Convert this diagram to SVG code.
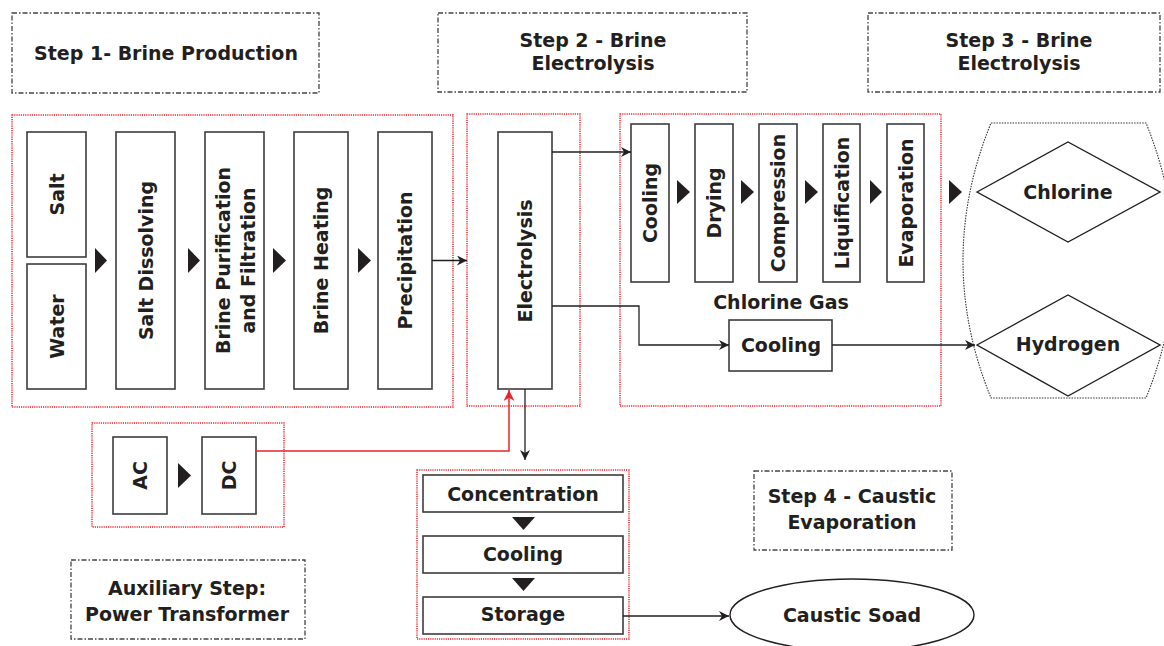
<svg xmlns="http://www.w3.org/2000/svg" width="1164" height="646" viewBox="0 0 1164 646">
<defs>
<style>
.t{font-family:"DejaVu Sans","Liberation Sans",sans-serif;font-weight:bold;font-size:19px;fill:#231f20;text-anchor:middle}
.box{fill:#fff;stroke:#3d3d3d;stroke-width:1.6}
.grp{fill:none;stroke:#ec2830;stroke-width:1.5;stroke-dasharray:1.2 1}
.step{fill:#fff;stroke:#444;stroke-width:1.3;stroke-dasharray:5 2 1.5 2}
.tri{fill:#231f20}
.ln{fill:none;stroke:#231f20;stroke-width:1.3}
.rl{fill:none;stroke:#e8242b;stroke-width:1.5}
.dia{fill:#fff;stroke:#231f20;stroke-width:1.4}
</style>
<marker id="ah" viewBox="0 0 10 10" refX="10" refY="5" markerWidth="10" markerHeight="10" markerUnits="userSpaceOnUse" orient="auto">
<path d="M0,0 L10,5 L0,10 L3,5 Z" fill="#231f20"/>
</marker>
<marker id="ahr" viewBox="0 0 10 10" refX="10" refY="5" markerWidth="11" markerHeight="11" markerUnits="userSpaceOnUse" orient="auto">
<path d="M0,0 L10,5 L0,10 L3,5 Z" fill="#e8242b"/>
</marker>
</defs>
<rect width="1164" height="646" fill="#fff"/>

<g id="step1-label"><rect class="step" x="12" y="13" width="307" height="80"/><text class="t" x="166" y="60">Step 1- Brine Production</text></g>
<g id="step2-label"><rect class="step" x="438" y="13" width="309" height="79"/><text class="t" x="593" y="47">Step 2 - Brine</text><text class="t" x="593" y="70">Electrolysis</text></g>
<g id="step3-label"><rect class="step" x="868" y="13" width="292" height="79"/><text class="t" x="1019" y="47">Step 3 - Brine</text><text class="t" x="1019" y="70">Electrolysis</text></g>
<g id="step4-label"><rect class="step" x="754" y="471" width="198" height="79"/><text class="t" x="852" y="503">Step 4 - Caustic</text><text class="t" x="852" y="529">Evaporation</text></g>
<g id="aux-label"><rect class="step" x="71" y="560" width="234" height="79"/><text class="t" x="187" y="595">Auxiliary Step:</text><text class="t" x="187" y="621">Power Transformer</text></g>

<g id="group-brine"><rect class="grp" x="12" y="115" width="441" height="292"/></g>
<g id="group-electrolysis"><rect class="grp" x="467" y="114" width="113" height="292"/></g>
<g id="group-chlorine"><rect class="grp" x="620" y="114" width="321" height="292"/></g>
<g id="group-power"><rect class="grp" x="92" y="423" width="192" height="104"/></g>
<g id="group-caustic"><rect class="grp" x="417" y="470" width="212" height="169"/></g>
<g id="group-products"><path d="M991,123 L1146,123 Q1202,260.5 1146,398 L991,398 Q935,260.5 991,123 Z" fill="none" stroke="#333" stroke-width="1.1" stroke-dasharray="1.5 1.2"/></g>

<g id="salt"><rect class="box" x="27" y="132" width="59" height="125"/><text class="t" transform="translate(56.5,194.5) rotate(-90)" y="7">Salt</text></g>
<g id="water"><rect class="box" x="27" y="264" width="59" height="125"/><text class="t" transform="translate(56.5,326.5) rotate(-90)" y="7">Water</text></g>
<g id="salt-dissolving"><rect class="box" x="116" y="132" width="59" height="257"/><text class="t" transform="translate(145.5,260.5) rotate(-90)" y="7">Salt Dissolving</text></g>
<g id="brine-purification"><rect class="box" x="205" y="132" width="59" height="257"/><text class="t" transform="translate(234.5,260.5) rotate(-90)"><tspan x="0" y="-5">Brine Purification</tspan><tspan x="0" y="20">and Filtration</tspan></text></g>
<g id="brine-heating"><rect class="box" x="294" y="132" width="54" height="257"/><text class="t" transform="translate(321,260.5) rotate(-90)" y="7">Brine Heating</text></g>
<g id="precipitation"><rect class="box" x="378" y="132" width="54" height="257"/><text class="t" transform="translate(405,260.5) rotate(-90)" y="7">Precipitation</text></g>

<g id="electrolysis"><rect class="box" x="498" y="132" width="54" height="257"/><text class="t" transform="translate(525,261) rotate(-90)" y="7">Electrolysis</text></g>

<g id="cl-cooling"><rect class="box" x="631" y="124" width="38" height="158"/><text class="t" transform="translate(650,203) rotate(-90)" y="7">Cooling</text></g>
<g id="cl-drying"><rect class="box" x="695" y="124" width="38" height="158"/><text class="t" transform="translate(714,203) rotate(-90)" y="7">Drying</text></g>
<g id="cl-compression"><rect class="box" x="759" y="124" width="38" height="158"/><text class="t" transform="translate(778,203) rotate(-90)" y="7">Compression</text></g>
<g id="cl-liquification"><rect class="box" x="823" y="124" width="37" height="158"/><text class="t" transform="translate(841.5,203) rotate(-90)" y="7">Liquification</text></g>
<g id="cl-evaporation"><rect class="box" x="887" y="124" width="37" height="158"/><text class="t" transform="translate(905.5,203) rotate(-90)" y="7">Evaporation</text></g>
<g id="chlorine-gas-label"><text class="t" x="781" y="309">Chlorine Gas</text></g>
<g id="h-cooling"><rect class="box" x="729" y="320" width="103" height="51"/><text class="t" x="781" y="352">Cooling</text></g>

<g id="chlorine"><polygon class="dia" points="977,192 1068,142 1160,192 1068,242"/><text class="t" x="1068" y="199">Chlorine</text></g>
<g id="hydrogen"><polygon class="dia" points="977,345 1068,295 1160,345 1068,396"/><text class="t" x="1068" y="351">Hydrogen</text></g>

<g id="ac"><rect class="box" x="113" y="437" width="54" height="77"/><text class="t" transform="translate(140,475.5) rotate(-90)" y="7">AC</text></g>
<g id="dc"><rect class="box" x="202" y="437" width="54" height="77"/><text class="t" transform="translate(229,475.5) rotate(-90)" y="7">DC</text></g>

<g id="concentration"><rect class="box" x="423" y="475" width="200" height="37"/><text class="t" x="523" y="501">Concentration</text></g>
<g id="c-cooling"><rect class="box" x="423" y="536" width="200" height="37"/><text class="t" x="523" y="561">Cooling</text></g>
<g id="storage"><rect class="box" x="423" y="597" width="200" height="37"/><text class="t" x="523" y="621">Storage</text></g>
<g id="caustic-soad"><ellipse cx="852" cy="615" rx="122" ry="36" fill="#fff" stroke="#231f20" stroke-width="1.4"/><text class="t" x="852" y="622">Caustic Soad</text></g>

<g id="connectors">
<polygon class="tri" points="95,248 107,260.5 95,273"/>
<polygon class="tri" points="188,248 200,260.5 188,273"/>
<polygon class="tri" points="273,248 286,260.5 273,273"/>
<polygon class="tri" points="358,248 371,260.5 358,273"/>
<polygon class="tri" points="677,180 690,192 677,204"/>
<polygon class="tri" points="741,180 754,192 741,204"/>
<polygon class="tri" points="805,180 818,192 805,204"/>
<polygon class="tri" points="870,180 882,192 870,204"/>
<polygon class="tri" points="949,180 962,192 949,204"/>
<polygon class="tri" points="178,463 191,475.5 178,488"/>
<polygon class="tri" points="512,517 535,517 523.5,530"/>
<polygon class="tri" points="512,578 535,578 523.5,591"/>
<path class="ln" d="M432,260.5 H467" marker-end="url(#ah)"/>
<path class="ln" d="M552,152 H631" marker-end="url(#ah)"/>
<path class="ln" d="M552,306 H639 V345 H729" marker-end="url(#ah)"/>
<path class="ln" d="M832,345 H975" marker-end="url(#ah)"/>
<path class="ln" d="M525,389 V460" marker-end="url(#ah)"/>
<path class="ln" d="M623,616 H729" marker-end="url(#ah)"/>
<path class="rl" d="M256,451 H509 V390" marker-end="url(#ahr)"/>
</g>
</svg>
